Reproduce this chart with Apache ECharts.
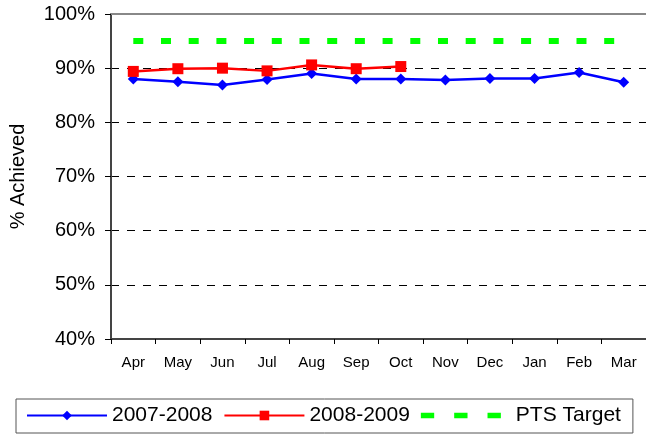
<!DOCTYPE html>
<html>
<head>
<meta charset="utf-8">
<script src="https://cdn.jsdelivr.net/npm/echarts@6/dist/echarts.min.js"></script>
<style>
  html, body { margin: 0; padding: 0; background: #fff; }
  #chart { width: 646px; height: 439px; }
</style>
</head>
<body>
<div id="chart"></div>
<script>
'use strict'

const months = ['Apr', 'May', 'Jun', 'Jul', 'Aug', 'Sep', 'Oct', 'Nov', 'Dec', 'Jan', 'Feb', 'Mar'];
const year0708 = [88.0, 87.5, 86.9, 87.9, 89.0, 88.0, 88.0, 87.8, 88.1, 88.1, 89.2, 87.4];
const year0809 = [89.4, 89.9, 90.0, 89.5, 90.6, 89.9, 90.3];
const ptsTarget = [95, 95, 95, 95, 95, 95, 95, 95, 95, 95, 95, 95];

const font = 'Liberation Sans, Arial, sans-serif';

const chart = echarts.init(document.getElementById('chart'));
const option = {
    animation: false,
    grid: {
        left: 109,
        top: 14,
        width: 542,
        bottom: 100
    },
    legend: {
        left: 16,
        top: 399,
        padding: [6, 12, 7, 10],
        borderColor: '#555',
        borderWidth: 1,
        itemGap: 11,
        itemWidth: 80,
        itemHeight: 12,
        textStyle: { fontFamily: font, fontSize: 21, color: '#000' },
        data: [
            '2007-2008',
            '2008-2009',
            {
                name: 'PTS Target',
                icon: 'path://M0,0h12v5h-12z M30,0h12v5h-12z M60,0h12v5h-12z',
                textStyle: { padding: [0, 0, 0, 10] }
            }
        ]
    },
    xAxis: [
        {
            type: 'category',
            data: months,
            boundaryGap: true,
            axisLine: { lineStyle: { color: '#444', width: 2 } },
            axisTick: { show: true, length: 5, lineStyle: { color: '#000' } },
            axisLabel: { color: '#000', fontFamily: font, fontSize: 15, margin: 16 },
            splitLine: { show: false }
        },
        {
            type: 'category',
            position: 'top',
            data: months,
            axisLine: { lineStyle: { color: '#888', width: 2 } },
            axisTick: { show: false },
            axisLabel: { show: false }
        }
    ],
    yAxis: {
        type: 'value',
        min: 40,
        max: 100,
        interval: 10,
        name: '% Achieved',
        nameLocation: 'middle',
        nameGap: 83,
        nameTextStyle: { fontFamily: font, fontSize: 20, color: '#000' },
        axisLine: { show: true, lineStyle: { color: '#444', width: 2 } },
        axisTick: { show: true, length: 6, lineStyle: { color: '#000' } },
        axisLabel: { formatter: '{value}%', color: '#000', fontFamily: font, fontSize: 20, margin: 16 },
        splitLine: {
            show: true,
            lineStyle: {
                color: ['transparent', '#000', '#000', '#000', '#000', '#000', 'transparent'],
                type: [8, 8],
                width: 1
            }
        }
    },
    series: [
        {
            name: '2007-2008',
            type: 'line',
            data: year0708,
            symbol: 'diamond',
            symbolSize: 11,
            color: '#0000ff',
            lineStyle: { width: 2.5, color: '#0000ff' },
            itemStyle: { color: '#0000ff' }
        },
        {
            name: '2008-2009',
            type: 'line',
            data: year0809,
            symbol: 'rect',
            symbolSize: 11,
            color: '#ff0000',
            lineStyle: { width: 2.5, color: '#ff0000' },
            itemStyle: { color: '#ff0000' }
        },
        {
            name: 'PTS Target',
            type: 'line',
            data: ptsTarget,
            symbol: 'none',
            color: '#00ff00',
            lineStyle: { width: 6, color: '#00ff00', type: [10, 17.7] },
            itemStyle: { color: '#00ff00' }
        }
    ]
};
chart.setOption(option);
</script>
</body>
</html>
